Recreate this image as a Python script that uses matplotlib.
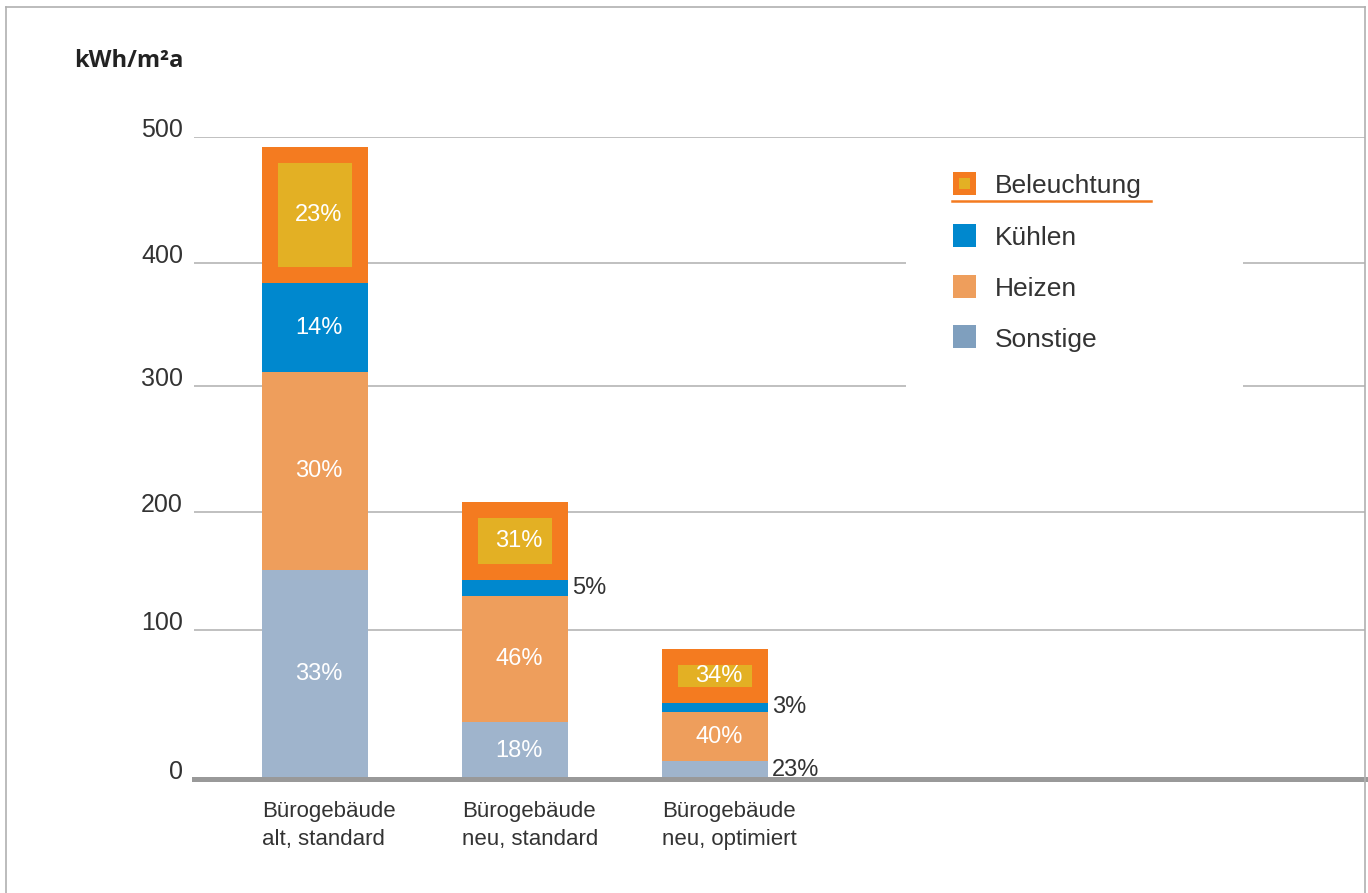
import matplotlib.pyplot as plt
from matplotlib.patches import Rectangle
from matplotlib.lines import Line2D
import numpy as np

# data
categories = ["Bürogebäude\nalt, standard", "Bürogebäude\nneu, standard", "Bürogebäude\nneu, optimiert"]
sonstige = [151, 38, 12]
heizen = [160, 91, 33]
kuehlen = [73, 13, 6]
beleuchtung = [108, 66, 36]
pct_sonstige = ["33%", "18%", "23%"]
pct_heizen = ["30%", "46%", "40%"]
pct_kuehlen = ["14%", "5%", "3%"]
pct_beleuchtung = ["23%", "31%", "34%"]
legend_names = ["Beleuchtung", "Kühlen", "Heizen", "Sonstige"]
yticks = [0, 100, 200, 300, 400, 500]
unit = "kWh/m²a"

# the printed axis is not evenly spaced: height (px) of each tick above the baseline
tick_px = [0, 149, 267, 393, 516, 642]

col_sonstige = "#9fb4cc"
col_sonstige_leg = "#7f9fbe"
col_heizen = "#ee9e5c"
col_kuehlen = "#0088ce"
col_orange = "#f47b20"
col_yellow = "#e3b024"
grid_col = "#b5b5b5"
text_col = "#333333"
fam = ["Liberation Sans", "DejaVu Sans"]

W, H = 1368, 893


def fx(px):
    return px / W


def fy(py):
    return 1 - py / H


def fwd(v):
    return np.interp(v, yticks, tick_px)


def inv(p):
    return np.interp(p, tick_px, yticks)


fig = plt.figure(figsize=(W / 100, H / 100), dpi=100)
ax = fig.add_axes([fx(194), fy(779), (1365 - 194) / W, 642 / H])
ax.set_yscale("function", functions=(fwd, inv))
ax.set_ylim(0, 500)
ax.set_xlim(-0.605, 5.25)

x = np.arange(len(categories))
w = 0.53

b0 = np.zeros(len(x))
b1 = b0 + np.array(sonstige)
b2 = b1 + np.array(heizen)
b3 = b2 + np.array(kuehlen)

ax.bar(x, sonstige, w, bottom=b0, color=col_sonstige, zorder=2)
ax.bar(x, heizen, w, bottom=b1, color=col_heizen, zorder=2)
ax.bar(x, kuehlen, w, bottom=b2, color=col_kuehlen, zorder=2)
ax.bar(x, beleuchtung, w, bottom=b3, color=col_orange, zorder=2)
# yellow inner box: thick orange edge clipped to the bar itself
inner = ax.bar(x, beleuchtung, w, bottom=b3, color=col_yellow,
               edgecolor=col_orange, linewidth=23, zorder=3)
for r in inner:
    r.set_clip_path(r)

# percentage labels
for vals, bots, pcts in [(sonstige, b0, pct_sonstige), (heizen, b1, pct_heizen),
                         (kuehlen, b2, pct_kuehlen), (beleuchtung, b3, pct_beleuchtung)]:
    for xi, v, b, p in zip(x, vals, bots, pcts):
        yc = inv((fwd(b) + fwd(b + v)) / 2)
        if v < 20:
            ax.text(xi + w / 2 + 0.02, yc, p, ha="left", va="center", fontsize=17,
                    family=fam, color=text_col, zorder=4)
        else:
            ax.text(xi + 0.02, yc, p, ha="center", va="center", fontsize=17,
                    family=fam, color="white", zorder=4)

# axes styling
for s in ax.spines.values():
    s.set_visible(False)
ax.set_yticks(yticks)
ax.set_yticklabels([str(t) for t in yticks], fontsize=18, family=fam, color=text_col)
for lab in ax.get_yticklabels():
    lab.set_verticalalignment("baseline")
ax.yaxis.grid(True, color=grid_col, linewidth=1.2, zorder=0)
ax.set_axisbelow(True)
ax.tick_params(axis="y", length=0, pad=8)
ax.set_xticks(x - w / 2)
ax.set_xticklabels(categories, ha="left", fontsize=16, family=fam,
                   color=text_col, linespacing=1.45)
ax.tick_params(axis="x", length=0, pad=16)
ax.axhline(0, color="#999999", linewidth=3.6, zorder=5, clip_on=False)

fig.text(fx(183), fy(61), unit, ha="right", va="center", fontsize=17,
         fontweight="bold", family=["Open Sans", "DejaVu Sans"], color="#222222")

# legend, drawn by hand in figure pixels
tf = fig.transFigure
ax.add_patch(Rectangle((fx(906), fy(388)), (1243 - 906) / W, (388 - 139) / H,
                       transform=tf, facecolor="white", edgecolor="none",
                       clip_on=False, zorder=6))
leg_cols = [col_orange, col_kuehlen, col_heizen, col_sonstige_leg]
rows = [183, 235, 286, 337]
sq = 23
for name, c, ry in zip(legend_names, leg_cols, rows):
    ax.add_patch(Rectangle((fx(953), fy(ry + sq / 2)), sq / W, sq / H, transform=tf,
                           facecolor=c, edgecolor="none", clip_on=False, zorder=7))
    ax.text(fx(995), fy(ry + 10), name, transform=tf, ha="left", va="baseline",
            fontsize=19, family=fam, color=text_col, zorder=7)
ax.add_patch(Rectangle((fx(959), fy(183 + 5.5)), 11 / W, 11 / H, transform=tf,
                       facecolor=col_yellow, edgecolor="none", clip_on=False, zorder=8))
ax.add_line(Line2D([fx(952), fx(1151)], [fy(201), fy(201)], transform=tf,
                   color=col_orange, linewidth=1.8, clip_on=False, zorder=7))

# outer frame
for xs, ys in [([6, 6], [7, 893]), ([6, 1365], [7, 7]), ([1365, 1365], [7, 893])]:
    ax.add_line(Line2D([fx(v) for v in xs], [fy(v) for v in ys], transform=tf,
                       color="#b0b0b0", linewidth=1.2, clip_on=False, zorder=7))

fig.savefig("out.png", dpi=100)
